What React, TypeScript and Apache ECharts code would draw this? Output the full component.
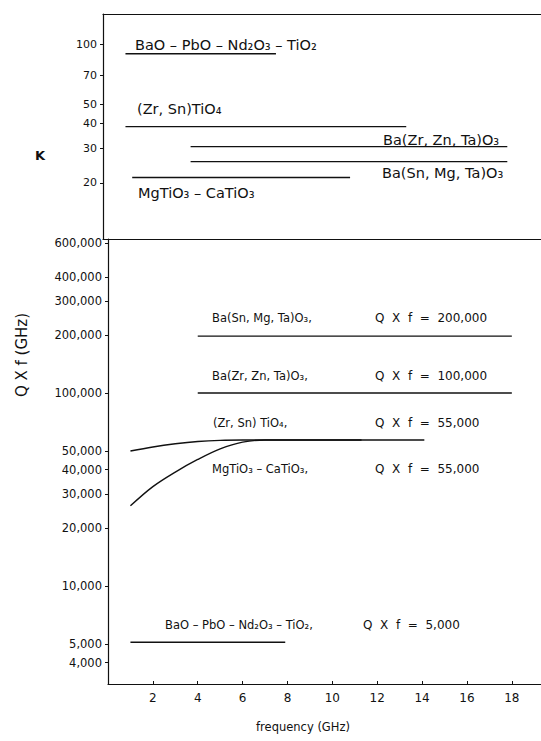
import React, { useEffect, useRef } from "react";
import * as echarts from "echarts";

// ---- data ----
const freqTicks = [2, 4, 6, 8, 10, 12, 14, 16, 18];
const kTicks = [20, 30, 40, 50, 70, 100];
const qfTicks = [4000, 5000, 10000, 20000, 30000, 40000, 50000, 100000, 200000, 300000, 400000, 600000];

// top panel: dielectric constant K vs frequency (GHz)
const kBaOPbO = [[1, 90], [7.7, 90]];
const kZrSn = [[1, 38.5], [13.5, 38.5]];
const kBaZrZnTa = [[3.9, 30.5], [18, 30.5]];
const kBaSnMgTa = [[3.9, 25.6], [18, 25.6]];
const kMgCa = [[1.3, 21.3], [11, 21.3]];

// bottom panel: Q x f (GHz) vs frequency (GHz)
const qBaSnMgTa = [[4, 197000], [18, 197000]];
const qBaZrZnTa = [[4, 100000], [18, 100000]];
const qZrSn = [[1, 50000], [2, 52500], [3, 54500], [4, 56000], [5, 56800], [6, 57000], [8, 57000], [14.1, 57000]];
const qMgCa = [[1, 26000], [2, 32700], [3, 38900], [4, 45200], [5, 51300], [6, 55600], [7, 57000], [8, 57000], [11.3, 57000]];
const qBaOPbO = [[1, 5100], [7.9, 5100]];

const FONT = "DejaVu Sans";
const INK = "#111";

export default function App() {
  const ref = useRef<HTMLDivElement>(null);
  useEffect(() => {
    if (!ref.current) return;
    const chart = echarts.init(ref.current, undefined, { renderer: "svg" });
    const lineSeries = (data: number[][], gi: number, smooth = false) => ({
      type: "line",
      data,
      xAxisIndex: gi === 0 ? 0 : 2,
      yAxisIndex: gi,
      showSymbol: false,
      smooth: smooth ? 0.35 : false,
      lineStyle: { color: INK, width: 1.4 },
      silent: true,
    });
    const txt = (text: string, x: number, y: number, size = 12, extra: any = {}) => ({
      type: "text",
      x,
      y,
      style: {
        text,
        fontFamily: FONT,
        fontSize: size,
        fill: INK,
        align: "left",
        verticalAlign: "middle",
        ...extra,
      },
    });
    const hiddenX = { axisTick: { show: false }, axisLabel: { show: false }, splitLine: { show: false } };
    chart.setOption({
      animation: false,
      backgroundColor: "#fff",
      grid: [
        { left: 103, right: 0, top: 14, height: 225 },
        { left: 108, right: 0, top: 239, bottom: 57 },
      ],
      xAxis: [
        {
          gridIndex: 0, type: "value", min: 0, max: 19.5, position: "top",
          axisLine: { show: true, lineStyle: { color: INK, width: 1.2 } }, ...hiddenX,
        },
        {
          gridIndex: 0, type: "value", min: 0, max: 19.5, position: "bottom",
          axisLine: { show: true, lineStyle: { color: INK, width: 1.2 } }, ...hiddenX,
        },
        {
          gridIndex: 1, type: "value", min: 0, max: 19.3,
          axisLine: { show: true, lineStyle: { color: INK, width: 1.2 } },
          axisTick: { show: true, inside: true, length: 3, customValues: freqTicks, lineStyle: { color: INK } },
          axisLabel: { show: true, customValues: freqTicks, color: INK, fontFamily: FONT, fontSize: 12, margin: 8 },
          splitLine: { show: false },
        },
      ],
      yAxis: [
        {
          gridIndex: 0, type: "log", logBase: 10, min: 10.4, max: 143,
          axisLine: { show: true, lineStyle: { color: INK, width: 1.2 } },
          axisTick: { show: true, length: 3, customValues: kTicks, lineStyle: { color: INK } },
          axisLabel: { show: true, customValues: kTicks, color: INK, fontFamily: FONT, fontSize: 11, margin: 6 },
          splitLine: { show: false }, minorTick: { show: false },
        },
        {
          gridIndex: 1, type: "log", logBase: 10, min: 3100, max: 628000,
          axisLine: { show: true, lineStyle: { color: INK, width: 1.2 } },
          axisTick: { show: true, length: 3, customValues: qfTicks, lineStyle: { color: INK } },
          axisLabel: {
            show: true, customValues: qfTicks, color: INK, fontFamily: FONT, fontSize: 11.5, margin: 6,
            formatter: (v: number) => Math.round(v).toLocaleString("en-US"),
          },
          splitLine: { show: false }, minorTick: { show: false },
        },
      ],
      series: [
        lineSeries(kBaOPbO, 0),
        lineSeries(kZrSn, 0),
        lineSeries(kBaZrZnTa, 0),
        lineSeries(kBaSnMgTa, 0),
        lineSeries(kMgCa, 0),
        lineSeries(qBaSnMgTa, 1),
        lineSeries(qBaZrZnTa, 1),
        lineSeries(qZrSn, 1, true),
        lineSeries(qMgCa, 1, true),
        lineSeries(qBaOPbO, 1),
      ],
      graphic: [
        // axis titles
        txt("K", 40, 155, 13, { align: "center", fontWeight: "bold" }),
        { ...txt("Q X f (GHz)", 22, 355, 15, { align: "center" }), rotation: Math.PI / 2 },
        txt("frequency (GHz)", 303, 727, 11.5, { align: "center" }),
        // top panel labels
        txt("BaO – PbO – Nd₂O₃ – TiO₂", 135, 45, 14.5),
        txt("(Zr, Sn)TiO₄", 137, 109, 14.5),
        txt("Ba(Zr, Zn, Ta)O₃", 383, 140, 14.5),
        txt("Ba(Sn, Mg, Ta)O₃", 382, 173, 14.5),
        txt("MgTiO₃ – CaTiO₃", 138, 193, 14.5),
        // bottom panel labels
        txt("Ba(Sn, Mg, Ta)O₃,", 212, 318, 11.5),
        txt("Q  X  f  =  200,000", 375, 318, 12),
        txt("Ba(Zr, Zn, Ta)O₃,", 212, 376, 11.5),
        txt("Q  X  f  =  100,000", 375, 376, 12),
        txt("(Zr, Sn) TiO₄,", 213, 423, 11.5),
        txt("Q  X  f  =  55,000", 375, 423, 12),
        txt("MgTiO₃ – CaTiO₃,", 212, 469, 11.5),
        txt("Q  X  f  =  55,000", 375, 469, 12),
        txt("BaO – PbO – Nd₂O₃ – TiO₂,", 165, 625, 11.5),
        txt("Q  X  f  =  5,000", 363, 625, 12),
      ],
    });
    return () => chart.dispose();
  }, []);
  return <div ref={ref} style={{ position: "fixed", left: 0, top: 0, width: 541, height: 741 }} />;
}
